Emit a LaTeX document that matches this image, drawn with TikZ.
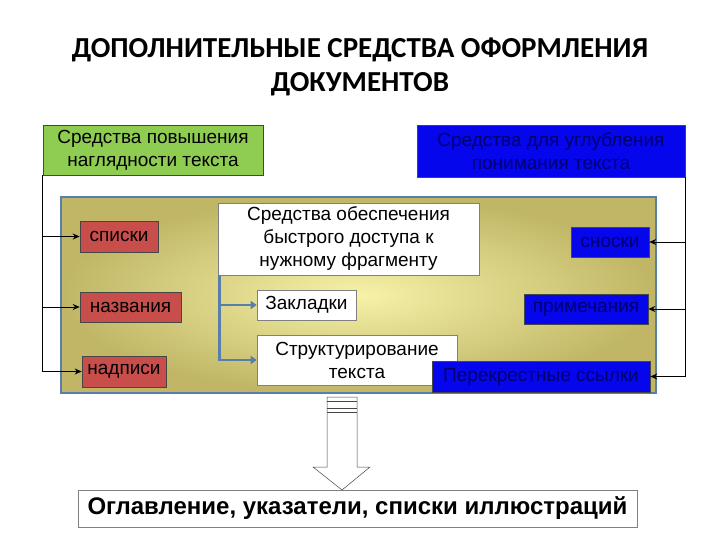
\documentclass[tikz,border=0pt]{standalone}
\usepackage{fontspec}
\setmainfont{Liberation Sans}
\newfontfamily\titlefont{Carlito}
\usetikzlibrary{arrows.meta}
\begin{document}
\begin{tikzpicture}[x=1pt,y=-1pt]
  \definecolor{leaf}{RGB}{142,204,82}
  \definecolor{brick}{RGB}{200,78,76}
  \definecolor{royal}{RGB}{6,6,236}
  \definecolor{navy}{RGB}{0,0,110}
  \definecolor{olive}{RGB}{192,182,102}
  \definecolor{straw}{RGB}{246,242,168}
  \definecolor{steel}{RGB}{88,126,172}
  \definecolor{frame}{RGB}{70,70,70}
  \useasboundingbox[fill=white] (0,0) rectangle (720,540);

  \node[font=\titlefont\bfseries\fontsize{29}{34}\selectfont,align=center] (title) at (360,67)
    {ДОПОЛНИТЕЛЬНЫЕ СРЕДСТВА ОФОРМЛЕНИЯ\\ДОКУМЕНТОВ};

  % Shaded panel behind the inner boxes.
  \shade[inner color=straw,outer color=olive] (61,197) rectangle (656,393);
  \draw[steel,line width=2.5pt] (61,197) rectangle (656,393);

  \tikzset{box/.style={draw=frame,line width=.6pt,inner sep=0pt,align=center,
      font=\fontsize{19}{23}\selectfont},
    tag/.style={box,fill=brick},
    cue/.style={box,fill=royal,text=navy},
    sheet/.style={box,draw=gray,fill=white},
    feed/.style={-{Stealth[length=7pt,width=6pt]},line width=.9pt},
    jump/.style={-{Triangle[length=6pt,width=8pt]},steel,line width=2.6pt}}

  \node[box,fill=leaf,minimum width=220,minimum height=50] (visual) at (153,150)
    {Средства повышения\\наглядности текста};
  \node[cue,minimum width=268,minimum height=52] (depth) at (551,151)
    {Средства для углубления\\понимания текста};

  \node[tag,minimum width=78,minimum height=31] (lists) at (119,236.5) {списки};
  \node[tag,minimum width=101,minimum height=30] (names) at (130.5,307) {названия};
  \node[tag,minimum width=84,minimum height=31] (labels) at (124,371.5) {надписи};

  \node[sheet,minimum width=261,minimum height=72] (access) at (348.5,239)
    {Средства обеспечения\\быстрого доступа к\\нужному фрагменту};
  \node[sheet,minimum width=99,minimum height=30] (marks) at (306.5,305) {Закладки};
  \node[sheet,minimum width=200,minimum height=50] (struct) at (357,360)
    {Структурирование\\текста};

  \node[cue,minimum width=78,minimum height=30] (notes) at (610,242) {сноски};
  \node[cue,minimum width=124,minimum height=30] (remarks) at (586,309) {примечания};
  \node[cue,minimum width=218,minimum height=31] (cross) at (541,376.5) {Перекрестные ссылки};

  \draw[feed] (visual.south west) |- (lists.west);
  \draw[feed] (visual.south west) |- (names.west);
  \draw[feed] (visual.south west) |- (labels.west);
  \draw[feed] (depth.south east) |- (notes.east);
  \draw[feed] (depth.south east) |- (remarks.east);
  \draw[feed] (depth.south east) |- (cross.east);

  \coordinate (fork) at ([xshift=2pt]access.south west);
  \draw[jump] (fork) |- (marks.west);
  \draw[jump] (fork) |- (struct.west);

  \node[box,draw=gray,fill=white,minimum width=559,minimum height=37,
    font=\bfseries\fontsize{24}{28}\selectfont] (index) at (357.5,508.5)
    {Оглавление, указатели, списки иллюстраций};

  % Hollow arrow from the panel down to the index box.
  \draw[frame,line width=.5pt,fill=white] (327,397) -- (357,397) -- (357,467) -- (370,467)
    -- (342,490) -- (313,467) -- (327,467) -- cycle;
  \draw[frame,line width=.5pt] (327,401) -- (357,401) (327,408) -- (357,408) (327,412) -- (357,412);
\end{tikzpicture}
\end{document}
